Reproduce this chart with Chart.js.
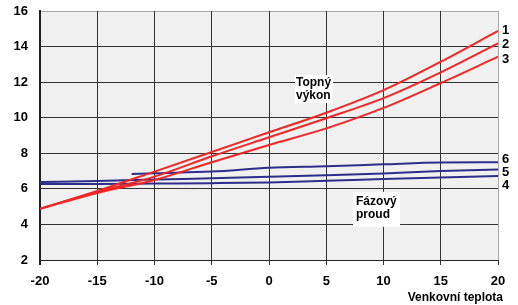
<!DOCTYPE html>
<html>
<head>
<meta charset="utf-8">
<script src="https://cdn.jsdelivr.net/npm/chart.js@4/dist/chart.umd.min.js"></script>
<style>
    body { margin: 0; background: #fff; }
    .chart-wrap { position: relative; width: 518px; height: 305px; }
    #plotBg { position: absolute; background: #f0f0f0; z-index: 0; }
    #outdoorTempChart { position: absolute; left: 0; top: 0; z-index: 1; }
</style>
</head>
<body>
<div class="chart-wrap">
    <div id="plotBg"></div>
    <canvas id="outdoorTempChart" width="518" height="305"></canvas>
</div>
<script>
// outdoor temperature (deg C)
var tempLabels = [-20, -15, -10, -5, 0, 5, 10, 15, 20];
var tempLabelsLine6 = [-12, -10, -5, 0, 5, 10, 15, 20];

// heating output curves 1-3
var heatOutput1 = [4.88, 5.88, 6.97, 8.07, 9.18, 10.28, 11.55, 13.15, 14.88];
var heatOutput2 = [4.88, 5.82, 6.69, 7.83, 8.90, 9.97, 11.10, 12.55, 14.18];
var heatOutput3 = [4.88, 5.77, 6.50, 7.50, 8.47, 9.40, 10.55, 11.95, 13.43];

// phase current curves 4-6
var phaseCurrent4 = [6.27, 6.28, 6.30, 6.32, 6.36, 6.45, 6.56, 6.64, 6.72];
var phaseCurrent5 = [6.38, 6.44, 6.52, 6.60, 6.68, 6.76, 6.86, 7.00, 7.09];
var phaseCurrent6 = [6.84, 6.88, 6.97, 7.18, 7.27, 7.38, 7.48, 7.49];

var seriesNames = ["1", "2", "3", "4", "5", "6"];
var xTitle = "Venkovní teplota";

var FONT = "'Liberation Sans', Arial, sans-serif";
var RED = "#f42525";
var BLUE = "#2e2e8a";
var GRID = "#333";
var GRID_EDGE = "#a8a8a8";

function toPoints(xs, ys) {
    var pts = [];
    for (var i = 0; i < xs.length; i++) {
        pts.push({ x: xs[i], y: ys[i] });
    }
    return pts;
}

function makeDataset(name, xs, ys, color) {
    return {
        label: name,
        data: toPoints(xs, ys),
        borderColor: color,
        borderWidth: 2,
        pointRadius: 0,
        fill: false,
        cubicInterpolationMode: 'monotone'
    };
}

// same rounding chart.js uses for crisp lines
function align(px, w) {
    return Math.round(px - w / 2) + w / 2;
}

function strokeLine(ctx, x1, y1, x2, y2, color, w) {
    ctx.strokeStyle = color;
    ctx.lineWidth = w;
    ctx.beginPath();
    ctx.moveTo(x1, y1);
    ctx.lineTo(x2, y2);
    ctx.stroke();
}

function drawNote(ctx, left, top, lines, w, h, padLeft, baselines) {
    ctx.fillStyle = "#fff";
    ctx.fillRect(left, top, w, h);
    ctx.fillStyle = "#000";
    ctx.font = "bold 12px " + FONT;
    ctx.textAlign = "left";
    ctx.textBaseline = "alphabetic";
    for (var i = 0; i < lines.length; i++) {
        ctx.fillText(lines[i], left + padLeft, top + baselines[i]);
    }
}

var decorPlugin = {
    id: 'decor',
    // grid, tick marks and axis lines taken from the scale ticks
    beforeDatasetsDraw: function (chart) {
        var ctx = chart.ctx, a = chart.chartArea;
        var xs = chart.scales.x, ys = chart.scales.y;
        ctx.save();
        ys.ticks.forEach(function (t) {
            var py = align(ys.getPixelForValue(t.value), 1);
            strokeLine(ctx, a.left, py, a.right, py, t.value === ys.max ? GRID_EDGE : GRID, 1);
        });
        xs.ticks.forEach(function (t) {
            var px = align(xs.getPixelForValue(t.value), 1);
            strokeLine(ctx, px, a.top, px, a.bottom, t.value === xs.max ? GRID_EDGE : GRID, 1);
            strokeLine(ctx, px, a.bottom, px, a.bottom + 5, GRID, 1);
        });
        var by = align(ys.getPixelForValue(ys.min), 1);
        strokeLine(ctx, a.left, by, a.right, by, "#222", 1);
        var bx = align(xs.getPixelForValue(xs.min), 2);
        strokeLine(ctx, bx, a.top, bx, a.bottom + 5, "#222", 2);
        ctx.restore();
    },
    // series numbers, text boxes, axis title
    afterDraw: function (chart) {
        var ctx = chart.ctx;
        var xs = chart.scales.x, ys = chart.scales.y;
        // small nudges so the numbers do not collide
        var nudge = [0, 1, 3, 9, 3, -3];
        ctx.save();
        ctx.fillStyle = "#000";
        ctx.font = "bold 13px " + FONT;
        ctx.textAlign = "left";
        ctx.textBaseline = "middle";
        chart.data.datasets.forEach(function (ds, i) {
            var meta = chart.getDatasetMeta(i);
            var last = meta.data[meta.data.length - 1];
            ctx.fillText(ds.label, last.x + 4, last.y + nudge[i]);
        });

        drawNote(ctx, xs.getPixelForValue(2.27), ys.getPixelForValue(12.4), ["Topný", "výkon"], 38, 28, 1, [10.5, 23.5]);
        drawNote(ctx, xs.getPixelForValue(7.34), ys.getPixelForValue(5.83), ["Fázový", "proud"], 47, 35, 3, [13, 26]);

        ctx.font = "bold 12px " + FONT;
        ctx.textAlign = "right";
        ctx.textBaseline = "alphabetic";
        ctx.fillStyle = "#000";
        ctx.fillText(xTitle, 503, 301);
        ctx.restore();
    }
};

var tickFont = { family: FONT, size: 13, weight: 'bold' };

var chart = new Chart(document.getElementById("outdoorTempChart").getContext("2d"), {
    type: 'line',
    data: {
        datasets: [
            makeDataset(seriesNames[0], tempLabels, heatOutput1, RED),
            makeDataset(seriesNames[1], tempLabels, heatOutput2, RED),
            makeDataset(seriesNames[2], tempLabels, heatOutput3, RED),
            makeDataset(seriesNames[3], tempLabels, phaseCurrent4, BLUE),
            makeDataset(seriesNames[4], tempLabels, phaseCurrent5, BLUE),
            makeDataset(seriesNames[5], tempLabelsLine6, phaseCurrent6, BLUE)
        ]
    },
    options: {
        responsive: false,
        animation: false,
        layout: { padding: { left: 0, right: 20, top: 11, bottom: 0 } },
        plugins: {
            legend: { display: false },
            tooltip: { enabled: false }
        },
        scales: {
            x: {
                type: 'linear',
                min: -20,
                max: 20,
                ticks: { stepSize: 5, padding: 9, color: "#000", font: tickFont },
                grid: { color: GRID, tickLength: 5 },
                border: { color: "#222" },
                afterFit: function (scale) { scale.height = 45; }
            },
            y: {
                min: 2,
                max: 16,
                ticks: { stepSize: 2, padding: 12, color: "#000", font: tickFont },
                grid: { color: GRID, drawTicks: false },
                border: { color: "#222", width: 2 },
                afterFit: function (scale) {
                    scale.width = 40;
                    scale.paddingTop = 0;
                    scale.paddingBottom = 0;
                }
            }
        }
    },
    plugins: [decorPlugin]
});

// grey plot area sits behind the transparent canvas
var area = chart.chartArea;
var bg = document.getElementById("plotBg");
bg.style.left = area.left + "px";
bg.style.top = area.top + "px";
bg.style.width = (area.right - area.left) + "px";
bg.style.height = (area.bottom - area.top) + "px";
</script>
</body>
</html>
